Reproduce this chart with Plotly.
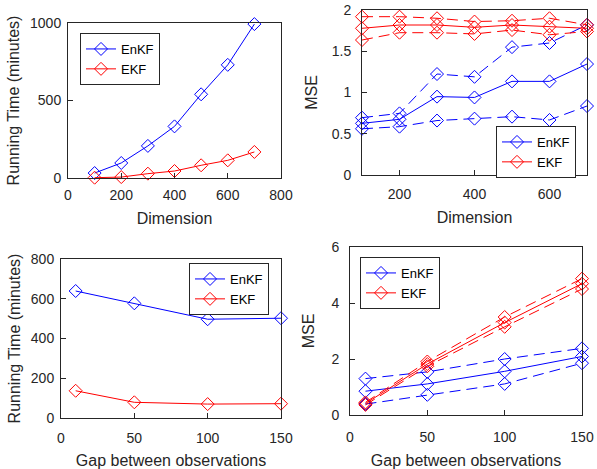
import plotly.graph_objects as go

W, H = 597, 469
BLUE = "#0000FF"
RED = "#FF0000"
AX = "#262626"
FONT = "Liberation Sans, Arial, sans-serif"

# Panel 1: running time vs dimension
dim = [100, 200, 300, 400, 500, 600, 700]
time_enkf_dim = [32, 97, 207, 333, 540, 730, 993]
time_ekf_dim = [2, 6, 28, 45, 82, 114, 168]

# Panel 2: MSE vs dimension (mean, upper, lower)
mse_enkf_dim = [0.626, 0.675, 0.95, 0.94, 1.135, 1.135, 1.345]
mse_enkf_dim_hi = [0.695, 0.747, 1.224, 1.19, 1.55, 1.6, 1.82]
mse_enkf_dim_lo = [0.56, 0.586, 0.66, 0.683, 0.707, 0.667, 0.836]
mse_ekf_dim = [1.778, 1.818, 1.818, 1.79, 1.818, 1.798, 1.778]
mse_ekf_dim_hi = [1.919, 1.919, 1.9, 1.86, 1.87, 1.9, 1.82]
mse_ekf_dim_lo = [1.636, 1.725, 1.725, 1.71, 1.757, 1.7, 1.74]

# Panel 3: running time vs gap
gap = [10, 50, 100, 150]
time_enkf_gap = [639, 577, 497, 502]
time_ekf_gap = [137, 79, 70, 72]

# Panel 4: MSE vs gap (mean, upper, lower)
mse_enkf_gap = [0.85, 1.11, 1.56, 2.09]
mse_enkf_gap_hi = [1.3, 1.54, 2.0, 2.38]
mse_enkf_gap_lo = [0.39, 0.72, 1.11, 1.85]
mse_ekf_gap = [0.41, 1.82, 3.3, 4.69]
mse_ekf_gap_hi = [0.45, 1.91, 3.5, 4.87]
mse_ekf_gap_lo = [0.36, 1.74, 3.15, 4.5]

fig = go.Figure()

def add(x, y, color, name, xa, ya, legend, dash="solid", show=True):
    fig.add_trace(go.Scatter(
        x=x, y=y, mode="lines+markers", name=name,
        line=dict(color=color, width=1, dash=dash),
        marker=dict(symbol="diamond-open", size=10, color=color,
                    line=dict(color=color, width=1)),
        xaxis=xa, yaxis=ya, legend=legend, showlegend=show,
        cliponaxis=False,
    ))

DASH = "11px,6px"
# panel 1
add(dim, time_enkf_dim, BLUE, "EnKF", "x", "y", "legend")
add(dim, time_ekf_dim, RED, "EKF", "x", "y", "legend")
# panel 2
add(dim, mse_enkf_dim, BLUE, "EnKF", "x2", "y2", "legend2")
add(dim, mse_ekf_dim, RED, "EKF", "x2", "y2", "legend2")
add(dim, mse_enkf_dim_hi, BLUE, "EnKF", "x2", "y2", "legend2", DASH, False)
add(dim, mse_enkf_dim_lo, BLUE, "EnKF", "x2", "y2", "legend2", DASH, False)
add(dim, mse_ekf_dim_hi, RED, "EKF", "x2", "y2", "legend2", DASH, False)
add(dim, mse_ekf_dim_lo, RED, "EKF", "x2", "y2", "legend2", DASH, False)
# panel 3
add(gap, time_enkf_gap, BLUE, "EnKF", "x3", "y3", "legend3")
add(gap, time_ekf_gap, RED, "EKF", "x3", "y3", "legend3")
# panel 4
add(gap, mse_enkf_gap, BLUE, "EnKF", "x4", "y4", "legend4")
add(gap, mse_ekf_gap, RED, "EKF", "x4", "y4", "legend4")
add(gap, mse_enkf_gap_hi, BLUE, "EnKF", "x4", "y4", "legend4", DASH, False)
add(gap, mse_enkf_gap_lo, BLUE, "EnKF", "x4", "y4", "legend4", DASH, False)
add(gap, mse_ekf_gap_hi, RED, "EKF", "x4", "y4", "legend4", DASH, False)
add(gap, mse_ekf_gap_lo, RED, "EKF", "x4", "y4", "legend4", DASH, False)

def px_x(a, b):
    return [a / W, b / W]

def px_y(top, bottom):
    return [1 - bottom / H, 1 - top / H]

def axis(domain, rng, dtick, title, anchor, tick0=0, lab=4, stand=10):
    return dict(
        domain=domain, range=rng, dtick=dtick, tick0=tick0, anchor=anchor,
        showline=True, mirror=True, linecolor=AX, linewidth=1,
        ticks="inside", ticklen=5, tickcolor=AX, showgrid=False, zeroline=False,
        ticklabelstandoff=lab,
        tickfont=dict(size=14, color=AX, family=FONT),
        title=dict(text=title, font=dict(size=16, color=AX, family=FONT), standoff=stand),
        automargin=False,
    )

def legend(x, ytop):
    return dict(
        x=x / W, y=1 - ytop / H, xanchor="left", yanchor="top",
        bordercolor=AX, borderwidth=1, bgcolor="white",
        font=dict(size=13, color="black", family=FONT),
        itemwidth=30, tracegroupgap=0,
    )

fig.update_layout(
    width=W, height=H,
    margin=dict(l=0, r=0, t=0, b=0),
    paper_bgcolor="white", plot_bgcolor="white",
    font=dict(family=FONT, color=AX),
    xaxis=axis(px_x(68, 281), [0, 800], 200, "Dimension", "y", lab=4, stand=11),
    yaxis=axis(px_y(23, 178), [0, 1000], 500, "Running Time (minutes)", "x", lab=3, stand=6),
    xaxis2=axis(px_x(362, 587), [100, 700], 200, "Dimension", "y2", lab=6, stand=11),
    yaxis2=axis(px_y(10, 175), [0, 2], 0.5, "MSE", "x2", lab=7, stand=10),
    xaxis3=axis(px_x(61, 281), [0, 150], 50, "Gap between observations", "y3", lab=7, stand=13),
    yaxis3=axis(px_y(259, 418), [0, 800], 200, "Running Time (minutes)", "x3", lab=3, stand=6),
    xaxis4=axis(px_x(350, 582), [0, 150], 50, "Gap between observations", "y4", lab=9, stand=13),
    yaxis4=axis(px_y(247, 415), [0, 6], 2, "MSE", "x4", lab=7, stand=12),
    legend=legend(80, 33),
    legend2=legend(496, 126),
    legend3=legend(189, 263),
    legend4=legend(360, 257),
)

fig.write_html("out.html")
